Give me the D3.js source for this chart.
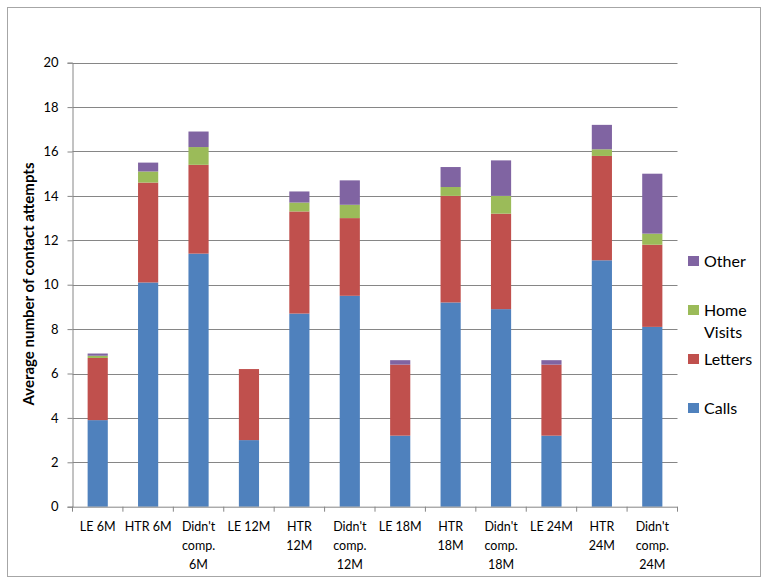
<!DOCTYPE html>
<html>
<head>
<meta charset="utf-8">
<script src="https://cdn.jsdelivr.net/npm/d3@7"></script>
<style>
  body { margin: 0; background: #fff; }
  svg { display: block; }
  text { font-family: Lato, "Open Sans", sans-serif; fill: #000; }
</style>
</head>
<body>
<svg id="chart" width="767" height="583"></svg>
<script>
const categories = [
  ["LE 6M"], ["HTR 6M"], ["Didn't", "comp.", "6M"],
  ["LE 12M"], ["HTR", "12M"], ["Didn't", "comp.", "12M"],
  ["LE 18M"], ["HTR", "18M"], ["Didn't", "comp.", "18M"],
  ["LE 24M"], ["HTR", "24M"], ["Didn't", "comp.", "24M"]
];
const calls      = [3.9, 10.1, 11.4, 3.0, 8.7, 9.5, 3.2, 9.2, 8.9, 3.2, 11.1, 8.1];
const letters    = [2.8, 4.5, 4.0, 3.2, 4.6, 3.5, 3.2, 4.8, 4.3, 3.2, 4.7, 3.7];
const homeVisits = [0.1, 0.5, 0.8, 0.0, 0.4, 0.6, 0.0, 0.4, 0.8, 0.0, 0.3, 0.5];
const other      = [0.1, 0.4, 0.7, 0.0, 0.5, 1.1, 0.2, 0.9, 1.6, 0.2, 1.1, 2.7];
const seriesNames = ["Calls", "Letters", "Home Visits", "Other"];
const yTicks = [0, 2, 4, 6, 8, 10, 12, 14, 16, 18, 20];

(function () {
const colors = ["#4F81BD", "#C0504D", "#9BBB59", "#8064A2"];
const seriesValues = [calls, letters, homeVisits, other];

const svg = d3.select("#chart");

// outer border
svg.append("rect").attr("x", 7.5).attr("y", 7.5).attr("width", 753).attr("height", 569)
  .attr("fill", "#fff").attr("stroke", "#a6a6a6").attr("stroke-width", 1);

const pLeft = 72.5, pRight = 677.5, pTop = 62.7, pBottom = 506.7;
const idx = categories.map((d, i) => i);
const x = d3.scaleBand().domain(idx).range([pLeft, pRight]).padding(0);
const y = d3.scaleLinear().domain([0, 20]).range([pBottom, pTop]);

// gridlines
svg.append("g").selectAll("line").data(yTicks.filter(t => t > 0)).join("line")
  .attr("x1", pLeft).attr("x2", pRight)
  .attr("y1", d => Math.round(y(d)) + 0.5).attr("y2", d => Math.round(y(d)) + 0.5)
  .attr("stroke", "#868686").attr("stroke-width", 1);

// stacked data
const table = idx.map(i => {
  const o = { i };
  seriesNames.forEach((s, k) => o[s] = seriesValues[k][i]);
  return o;
});
const stack = d3.stack().keys(seriesNames)(table);

const barW = x.bandwidth() * 0.4;
stack.forEach((layer, k) => {
  svg.append("g").attr("fill", colors[k]).selectAll("rect").data(layer).join("rect")
    .attr("x", d => x(d.data.i) + (x.bandwidth() - barW) / 2)
    .attr("width", barW)
    .attr("y", d => y(d[1]))
    .attr("height", d => Math.max(0, y(d[0]) - y(d[1])));
});

// y axis
const yAxis = d3.axisLeft(y).tickValues(yTicks).tickSize(5).tickPadding(9);
const gy = svg.append("g").attr("transform", `translate(${pLeft},0)`).call(yAxis);
gy.select(".domain").attr("stroke", "#868686");
gy.selectAll(".tick line").attr("stroke", "#868686");
gy.selectAll(".tick text").attr("font-size", 13).attr("font-family", "Lato").attr("fill", "#000");

// x axis
const gx = svg.append("g").attr("transform", `translate(0,${pBottom})`);
gx.append("line").attr("x1", pLeft).attr("x2", pRight).attr("y1", 0.5).attr("y2", 0.5).attr("stroke", "#868686");
const bounds = idx.map(i => x(i)).concat([pRight]);
gx.selectAll("line.tk").data(bounds).join("line").attr("class", "tk")
  .attr("x1", d => d).attr("x2", d => d).attr("y1", 0).attr("y2", 5).attr("stroke", "#868686");
gx.selectAll("text.lbl").data(idx).join("text").attr("class", "lbl")
  .attr("text-anchor", "middle").attr("font-size", 12.5)
  .each(function(i) {
    const t = d3.select(this);
    categories[i].forEach((line, j) => {
      t.append("tspan").attr("x", x(i) + x.bandwidth() / 2).attr("y", 24 + j * 19).text(line);
    });
  });

// y title
svg.append("text").attr("transform", "translate(34,284) rotate(-90)")
  .attr("text-anchor", "middle").attr("font-size", 15).attr("font-weight", "bold")
  .text("Average number of contact attempts");

// legend
const legendItems = [
  { k: 3, lines: ["Other"], cy: 261 },
  { k: 2, lines: ["Home", "Visits"], cy: 310 },
  { k: 1, lines: ["Letters"], cy: 359 },
  { k: 0, lines: ["Calls"], cy: 408 }
];
const lg = svg.append("g");
legendItems.forEach(it => {
  lg.append("rect").attr("x", 688).attr("y", it.cy - 5).attr("width", 11).attr("height", 10)
    .attr("fill", colors[it.k]);
  const t = lg.append("text").attr("font-size", 16);
  it.lines.forEach((ln, j) => {
    t.append("tspan").attr("x", 704).attr("y", it.cy + 6 + j * 22).text(ln);
  });
});
})();
</script>
</body>
</html>
